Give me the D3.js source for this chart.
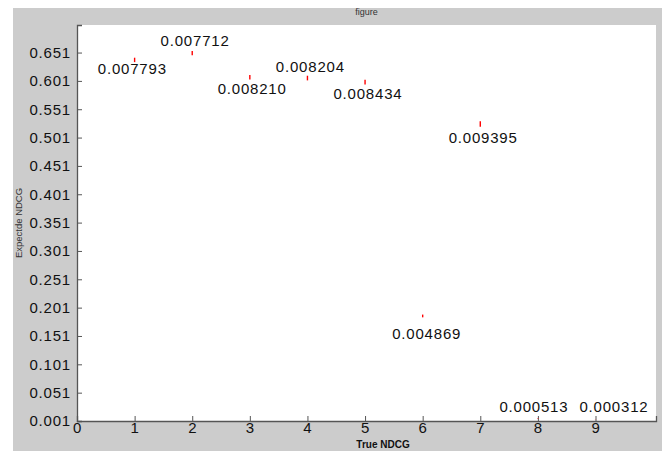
<!DOCTYPE html>
<html>
<head>
<meta charset="utf-8">
<script src="https://cdn.jsdelivr.net/npm/d3@7"></script>
<style>
  body { margin: 0; background: #fff; }
  svg { display: block; font-family: "Liberation Sans", Arial, sans-serif; }
</style>
</head>
<body>
<div class="chart-container"></div>
<script>
// --------------------------------------------------------
// DATA
// --------------------------------------------------------
const trueNdcg = [1, 2, 3, 4, 5, 6, 7, 8, 9];
const expNdcg = [0.638, 0.650, 0.6075, 0.606, 0.599, 0.1863, 0.525, 0.005, 0.003];
const stdDev = [0.007793, 0.007712, 0.008210, 0.008204, 0.008434, 0.004869, 0.009395, 0.000513, 0.000312];
const stdLabels = ["0.007793", "0.007712", "0.008210", "0.008204", "0.008434", "0.004869", "0.009395", "0.000513", "0.000312"];
// text annotation anchors (data units, like MATLAB text())
const labelX = [0.96, 2.05, 3.04, 4.05, 5.05, 6.07, 7.05, 7.93, 9.32];
const labelY = [0.6234, 0.672, 0.588, 0.627, 0.578, 0.1558, 0.5016, 0.027, 0.027];
const xTicks = [0, 1, 2, 3, 4, 5, 6, 7, 8, 9];
const yTicks = d3.range(14).map((i) => +(0.001 + i * 0.05).toFixed(3));

// --------------------------------------------------------
// LAYOUT
// --------------------------------------------------------
const width = 662;
const height = 451;
const plot = { left: 77, right: 656, top: 25, bottom: 421 };

const svg = d3
  .select(".chart-container")
  .append("svg")
  .attr("width", width)
  .attr("height", height);

// figure background (gray)
svg.append("rect")
  .attr("x", 13).attr("y", 8)
  .attr("width", width - 13).attr("height", height - 8)
  .attr("fill", "#cccccc");

// axes area (white)
svg.append("rect")
  .attr("x", plot.left).attr("y", plot.top)
  .attr("width", plot.right - plot.left).attr("height", plot.bottom - plot.top)
  .attr("fill", "#ffffff");

const x = d3.scaleLinear().domain([0, 10.05]).range([plot.left, plot.right]);
const y = d3.scaleLinear().domain([0.001, 0.6996]).range([plot.bottom, plot.top]);

// title
svg.append("text")
  .attr("x", (plot.left + plot.right) / 2)
  .attr("y", 15)
  .attr("text-anchor", "middle")
  .attr("font-size", 9)
  .attr("fill", "#333")
  .text("figure");

// y axis
const yAxis = svg.append("g")
  .attr("transform", `translate(${plot.left},0)`)
  .call(d3.axisLeft(y).tickValues(yTicks).tickFormat(d3.format(".3f")).tickSize(-5).tickPadding(6));

// x axis
const xAxis = svg.append("g")
  .attr("transform", `translate(0,${plot.bottom})`)
  .call(d3.axisBottom(x).tickValues(xTicks).tickFormat(d3.format("d")).tickSize(-5).tickPadding(1));

[yAxis, xAxis].forEach((ax) => {
  ax.select(".domain").attr("stroke", "#555").attr("stroke-width", 1.3);
  ax.selectAll(".tick line").attr("stroke", "#555");
  ax.selectAll(".tick text")
    .attr("font-size", 15)
    .attr("letter-spacing", 0.8)
    .attr("fill", "#111")
    .attr("font-family", "Liberation Sans, Arial, sans-serif");
});
xAxis.selectAll(".tick text").attr("dy", "0.72em");

// axis labels
svg.append("text")
  .attr("transform", "translate(22,223) rotate(-90)")
  .attr("text-anchor", "middle")
  .attr("font-size", 9.5)
  .attr("fill", "#333")
  .text("Expectde NDCG");

svg.append("text")
  .attr("x", 383)
  .attr("y", 448)
  .attr("text-anchor", "middle")
  .attr("font-size", 10)
  .attr("font-weight", "bold")
  .attr("fill", "#111")
  .text("True NDCG");

// error bars (red)
svg.append("g")
  .selectAll("line")
  .data(trueNdcg)
  .join("line")
  .attr("x1", (d) => x(d))
  .attr("x2", (d) => x(d))
  .attr("y1", (d, i) => y(expNdcg[i] + stdDev[i] / 2))
  .attr("y2", (d, i) => y(expNdcg[i] - stdDev[i] / 2))
  .attr("stroke", "#ff0000")
  .attr("stroke-width", 1.4);

// std annotations
svg.append("g")
  .selectAll("text")
  .data(stdLabels)
  .join("text")
  .attr("x", (d, i) => x(labelX[i]))
  .attr("y", (d, i) => y(labelY[i]))
  .attr("text-anchor", "middle")
  .attr("dominant-baseline", "central")
  .attr("font-size", 15)
  .attr("letter-spacing", 0.8)
  .attr("fill", "#111")
  .text((d) => d);
</script>
</body>
</html>
